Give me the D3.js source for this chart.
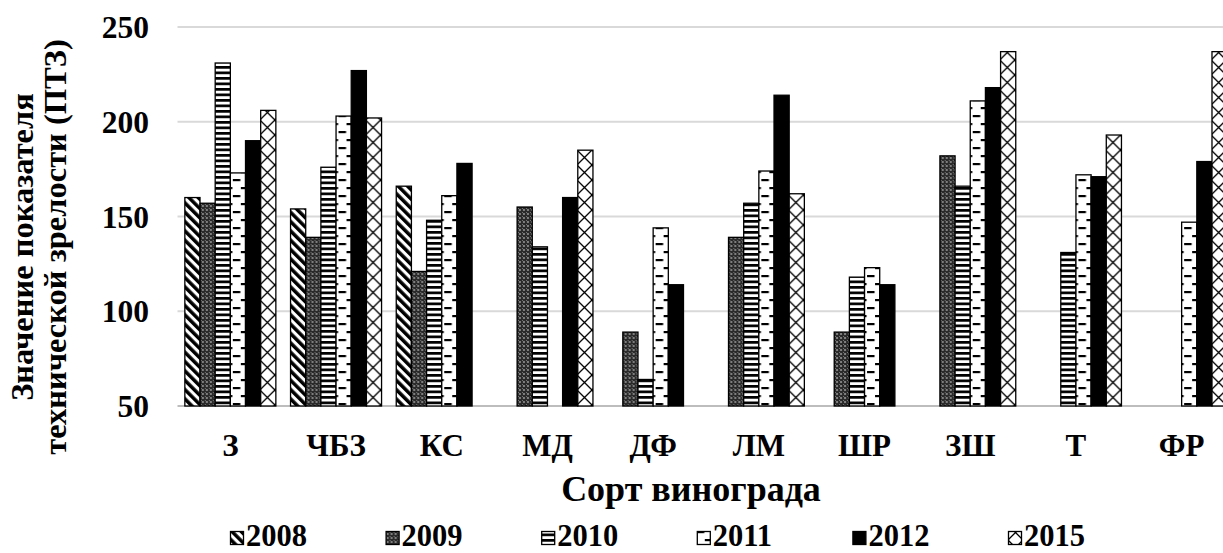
<!DOCTYPE html>
<html>
<head>
<meta charset="utf-8">
<script src="https://cdn.jsdelivr.net/npm/d3@7"></script>
<style>
  html, body { margin: 0; padding: 0; background: #fff; }
  svg { display: block; }
  svg text { font-family: "Liberation Serif", "Times New Roman", serif !important; font-weight: bold; fill: #000; }
</style>
</head>
<body>
<svg id="chart" width="1223" height="553"></svg>
<script>
// Grape varieties (x categories)
const categories = ["З", "ЧБЗ", "КС", "МД", "ДФ", "ЛМ", "ШР", "ЗШ", "Т", "ФР"];
// Observation years (series)
const years = ["2008", "2009", "2010", "2011", "2012", "2015"];
// Technical maturity index per variety; null = no observation that year
const values2008 = [160, 154, 166, null, null, null, null, null, null, null];
const values2009 = [157, 139, 121, 155, 89, 139, 89, 182, null, null];
const values2010 = [231, 176, 148, 134, 64, 157, 118, 166, 131, null];
const values2011 = [173, 203, 161, null, 144, 174, 123, 211, 172, 147];
const values2012 = [190, 227, 178, 160, 114, 214, 114, 218, 171, 179];
const values2015 = [206, 202, null, 185, null, 162, null, 237, 193, 237];
const yTicks = [50, 100, 150, 200, 250];

const seriesValues = [values2008, values2009, values2010, values2011, values2012, values2015];

const svg = d3.select("#chart");
const plot = { left: 177.5, right: 1234.5, top: 27, bottom: 406 };

// ---- fill patterns, one per year ----
const defs = svg.append("defs");

// 2008: wide downward diagonal stripes
const p08 = defs.append("pattern").attr("id", "pat-2008")
  .attr("patternUnits", "userSpaceOnUse").attr("width", 6.6).attr("height", 6.6)
  .attr("patternTransform", "rotate(-45)");
p08.append("rect").attr("width", 6.6).attr("height", 6.6).attr("fill", "#fff");
p08.append("rect").attr("width", 3.5).attr("height", 6.6).attr("fill", "#000");

// 2009: dark dotted grid
const p09 = defs.append("pattern").attr("id", "pat-2009")
  .attr("patternUnits", "userSpaceOnUse").attr("width", 4).attr("height", 4);
p09.append("rect").attr("width", 4).attr("height", 4).attr("fill", "#2a2a2a");
p09.append("rect").attr("x", 1.3).attr("y", 1.3).attr("width", 1.4).attr("height", 1.4).attr("fill", "#d8d8d8");
p09.append("rect").attr("x", 0).attr("y", 0).attr("width", 0.9).attr("height", 0.9).attr("fill", "#8a8a8a");

// 2010: dark horizontal lines
const p10 = defs.append("pattern").attr("id", "pat-2010")
  .attr("patternUnits", "userSpaceOnUse").attr("width", 10).attr("height", 5.5);
p10.append("rect").attr("width", 10).attr("height", 5.5).attr("fill", "#fff");
p10.append("rect").attr("width", 10).attr("height", 2.7).attr("fill", "#000");

// 2011: dashed horizontal
const p11 = defs.append("pattern").attr("id", "pat-2011")
  .attr("patternUnits", "userSpaceOnUse").attr("width", 16).attr("height", 16);
p11.append("rect").attr("width", 16).attr("height", 16).attr("fill", "#fff");
p11.append("rect").attr("x", 0).attr("y", 3).attr("width", 7.5).attr("height", 2.2).attr("fill", "#000");
p11.append("rect").attr("x", 8).attr("y", 11).attr("width", 7.5).attr("height", 2.2).attr("fill", "#000");

// 2015: outlined diagonal cross
const p15 = defs.append("pattern").attr("id", "pat-2015")
  .attr("patternUnits", "userSpaceOnUse").attr("width", 15).attr("height", 15);
p15.append("rect").attr("width", 15).attr("height", 15).attr("fill", "#fff");
p15.append("path").attr("d", "M0,0L15,15M15,0L0,15M-1,14L1,16M14,-1L16,1")
  .attr("stroke", "#000").attr("stroke-width", 1.3).attr("fill", "none");

const fills = {
  "2008": "url(#pat-2008)",
  "2009": "url(#pat-2009)",
  "2010": "url(#pat-2010)",
  "2011": "url(#pat-2011)",
  "2012": "#000",
  "2015": "url(#pat-2015)"
};

// ---- scales ----
const x0 = d3.scaleBand().domain(categories)
  .range([plot.left, plot.right]).paddingInner(0.139).paddingOuter(0.0695);
const x1 = d3.scaleBand().domain(years).range([0, x0.bandwidth()]).padding(0);
const y = d3.scaleLinear().domain([50, 250]).range([plot.bottom, plot.top]);

// ---- gridlines ----
const grid = svg.append("g");
grid.selectAll("line").data(yTicks).join("line")
  .attr("x1", plot.left).attr("x2", 1223)
  .attr("y1", d => y(d)).attr("y2", d => y(d))
  .attr("stroke", d => d === 50 ? "#bdbdbd" : "#d9d9d9")
  .attr("stroke-width", 2);

// ---- y axis labels ----
const yAxis = d3.axisLeft(y).tickValues(yTicks).tickSize(0).tickPadding(0);
const yg = svg.append("g").attr("transform", "translate(149,0)").call(yAxis);
yg.select(".domain").remove();
yg.selectAll("text")
  .style("font-size", "31.5px")
  .attr("fill", "#000")
  .attr("dy", "0.34em");

// ---- bars ----
const rows = categories.map((c, i) => ({
  cat: c,
  vals: years.map((yr, j) => ({ year: yr, value: seriesValues[j][i] }))
}));

const groups = svg.append("g").selectAll("g").data(rows).join("g")
  .attr("transform", d => `translate(${x0(d.cat)},0)`);

groups.selectAll("rect")
  .data(d => d.vals.filter(v => v.value !== null))
  .join("rect")
  .attr("x", d => x1(d.year))
  .attr("width", x1.bandwidth())
  .attr("y", d => y(d.value))
  .attr("height", d => y(50) - y(d.value))
  .attr("fill", d => fills[d.year])
  .attr("stroke", "#000")
  .attr("stroke-width", 1.3);

// ---- x axis labels ----
const xAxis = d3.axisBottom(x0).tickSize(0).tickPadding(0);
const xg = svg.append("g").attr("transform", "translate(0,456)").call(xAxis);
xg.select(".domain").remove();
xg.selectAll("text")
  .style("font-size", "31px")
  .attr("fill", "#000")
  .attr("dy", 0)
  .attr("y", 0);

// ---- axis titles ----
svg.append("text")
  .attr("x", 691).attr("y", 501)
  .attr("text-anchor", "middle")
  .style("font-size", "36px")
  .text("Сорт винограда");

const yTitle = svg.append("text")
  .attr("transform", "translate(0,247) rotate(-90)")
  .attr("text-anchor", "middle")
  .style("font-size", "32.5px");
yTitle.append("tspan").attr("x", 0).attr("y", 33).text("Значение показателя");
yTitle.append("tspan").attr("x", 0).attr("y", 66).text("технической зрелости (ПТЗ)");

// ---- legend ----
const legendX = d3.scalePoint().domain(years).range([230, 1008]);
const legend = svg.append("g").selectAll("g").data(years).join("g")
  .attr("transform", d => `translate(${legendX(d)},0)`);
legend.append("rect")
  .attr("x", 0.5).attr("y", 531.5).attr("width", 13).attr("height", 13)
  .attr("fill", d => fills[d])
  .attr("stroke", "#000").attr("stroke-width", 1.3);
legend.append("text")
  .attr("x", 16).attr("y", 546)
  .style("font-size", "30.5px")
  .text(d => d);
</script>
</body>
</html>
